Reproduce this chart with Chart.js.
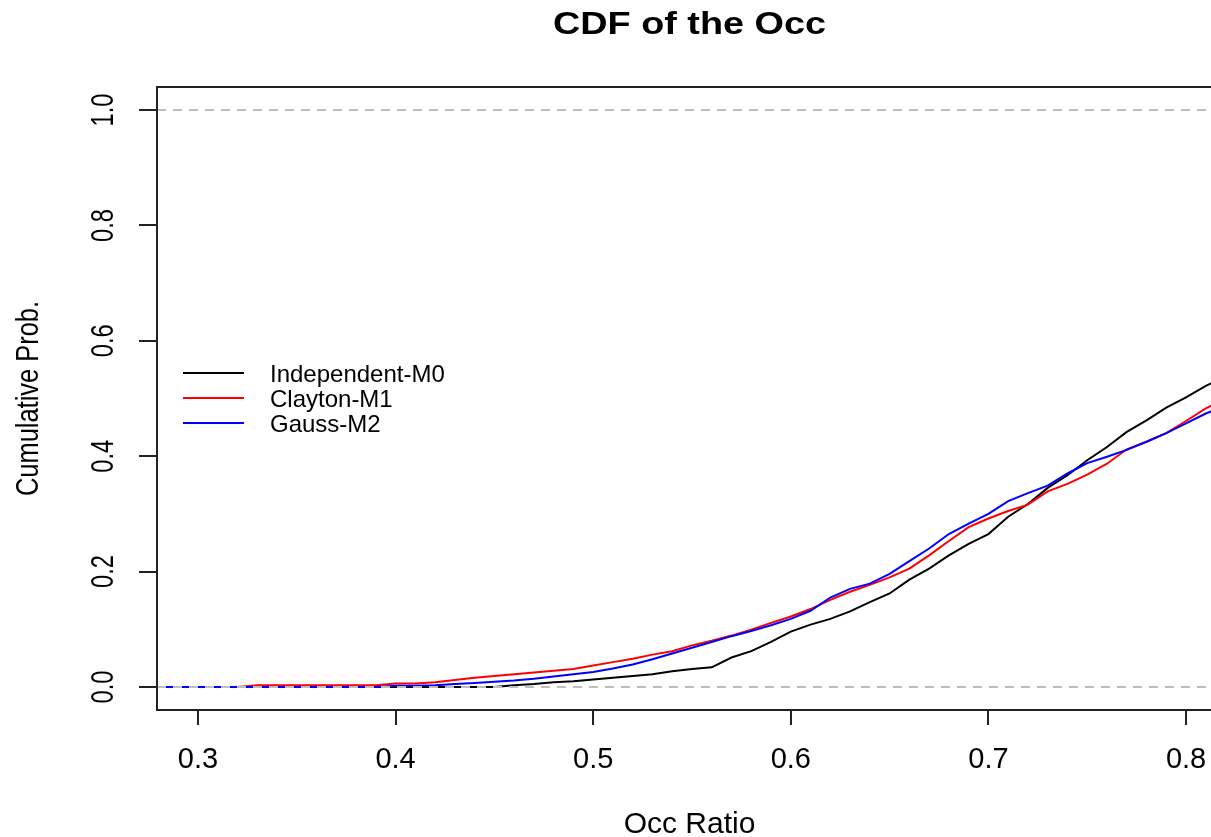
<!DOCTYPE html>
<html>
<head>
<meta charset="utf-8">
<title>CDF of the Occ</title>
<script src="https://cdn.jsdelivr.net/npm/chart.js@4.4.1/dist/chart.umd.min.js"></script>
<style>
  html, body { margin: 0; padding: 0; background: #fff; overflow: hidden; }
  #grafico { display: block; }
</style>
</head>
<body>
<canvas id="grafico" width="1240" height="837"></canvas>
<script>
// common x grid (Occ ratio) and the three ECDF curves
const occRatio = [0.28, 0.29, 0.30, 0.31, 0.32, 0.33, 0.34, 0.35, 0.36, 0.37, 0.38, 0.39,
  0.40, 0.41, 0.42, 0.43, 0.44, 0.45, 0.46, 0.47, 0.48, 0.49, 0.50, 0.51, 0.52, 0.53,
  0.54, 0.55, 0.56, 0.57, 0.58, 0.59, 0.60, 0.61, 0.62, 0.63, 0.64, 0.65, 0.66, 0.67,
  0.68, 0.69, 0.70, 0.71, 0.72, 0.73, 0.74, 0.75, 0.76, 0.77, 0.78, 0.79, 0.80, 0.81, 0.82];

const independentM0 = [0, 0, 0, 0, 0, 0, 0, 0, 0, 0, 0, 0,
  0, 0, 0, 0, 0, 0, 0.003, 0.005, 0.008, 0.010, 0.013, 0.016, 0.019, 0.022,
  0.027, 0.031, 0.034, 0.051, 0.062, 0.078, 0.096, 0.108, 0.118, 0.131, 0.147, 0.162, 0.186, 0.205,
  0.228, 0.248, 0.265, 0.295, 0.317, 0.345, 0.367, 0.393, 0.416, 0.442, 0.462, 0.484, 0.502, 0.522, 0.538];

const claytonM1 = [0, 0, 0, 0, 0, 0.003, 0.003, 0.003, 0.003, 0.003, 0.003, 0.003,
  0.006, 0.006, 0.008, 0.012, 0.016, 0.019, 0.022, 0.025, 0.028, 0.031, 0.037, 0.043, 0.049, 0.056,
  0.062, 0.072, 0.080, 0.089, 0.099, 0.111, 0.122, 0.135, 0.151, 0.165, 0.177, 0.190, 0.205, 0.228,
  0.253, 0.277, 0.292, 0.305, 0.316, 0.339, 0.352, 0.368, 0.387, 0.412, 0.425, 0.440, 0.461, 0.483, 0.500];

const gaussM2 = [0, 0, 0, 0, 0, 0, 0, 0, 0, 0, 0, 0,
  0.002, 0.002, 0.003, 0.005, 0.007, 0.009, 0.011, 0.014, 0.018, 0.022, 0.026, 0.032, 0.039, 0.048,
  0.058, 0.068, 0.078, 0.088, 0.097, 0.107, 0.118, 0.132, 0.155, 0.170, 0.179, 0.196, 0.218, 0.240,
  0.265, 0.283, 0.300, 0.322, 0.336, 0.349, 0.370, 0.388, 0.399, 0.411, 0.425, 0.440, 0.457, 0.474, 0.487];

const seriesNames = ['Independent-M0', 'Clayton-M1', 'Gauss-M2'];
const seriesColors = ['#000000', '#FF0000', '#0000FF'];
const xTicks = [0.3, 0.4, 0.5, 0.6, 0.7, 0.8];
const yTicks = [0, 0.2, 0.4, 0.6, 0.8, 1.0];
const refLines = [0, 1];
const xRange = [0.2793, 0.8182];
const yRange = [-0.04, 1.04];

const FONTE = "'Liberation Sans', Arial, sans-serif";
const TITULO = 'CDF of the Occ';

function pontos(serie) {
  return occRatio.map((x, i) => ({ x: x, y: serie[i] }));
}

const datasets = [independentM0, claytonM1, gaussM2].map((s, i) => ({
  label: seriesNames[i],
  data: pontos(s),
  borderColor: seriesColors[i],
  borderWidth: 2,
  pointRadius: 0,
  tension: 0,
  fill: false,
  order: 3 - i
}));

// dashed grey lines at 0 and 1, drawn over the curves
refLines.forEach(v => {
  datasets.push({
    label: 'ref',
    data: [{ x: xRange[0], y: v }, { x: xRange[1], y: v }],
    borderColor: '#BEBEBE',
    borderDash: [9, 7],
    borderWidth: 2,
    pointRadius: 0,
    fill: false,
    order: 0
  });
});

// box around the plot
const moldura = {
  id: 'moldura',
  afterDatasetsDraw(chart) {
    const { ctx, chartArea: a } = chart;
    ctx.save();
    ctx.strokeStyle = '#222';
    ctx.lineWidth = 2;
    ctx.strokeRect(a.left, a.top, a.right - a.left, a.bottom - a.top);
    ctx.restore();
  }
};

// title centred on the plot region, wide bold like the R device
const titulo = {
  id: 'titulo',
  afterDraw(chart) {
    const ctx = chart.ctx, a = chart.chartArea;
    ctx.save();
    ctx.fillStyle = '#000';
    ctx.textAlign = 'center';
    ctx.textBaseline = 'middle';
    ctx.font = 'bold 31px ' + FONTE;
    ctx.translate((a.left + a.right) / 2, 25);
    ctx.scale(1.22, 1);
    ctx.fillText(TITULO, 0, 0);
    ctx.restore();
  }
};

// rotated y labels + y title (R style)
const eixoY = {
  id: 'eixoY',
  afterDraw(chart) {
    const ctx = chart.ctx, s = chart.scales.y, a = chart.chartArea;
    ctx.save();
    ctx.fillStyle = '#000';
    ctx.textAlign = 'center';
    ctx.textBaseline = 'middle';
    ctx.font = '32px ' + FONTE;
    s.ticks.forEach(t => {
      ctx.save();
      ctx.translate(a.left - 53, s.getPixelForValue(t.value));
      ctx.rotate(-Math.PI / 2);
      ctx.scale(0.74, 1);
      ctx.fillText(t.value.toFixed(1), 0, 0);
      ctx.restore();
    });
    ctx.font = '31px ' + FONTE;
    ctx.translate(a.left - 128, (a.top + a.bottom) / 2);
    ctx.rotate(-Math.PI / 2);
    ctx.scale(0.82, 1);
    ctx.fillText('Cumulative Prob.', 0, 0);
    ctx.restore();
  }
};

const legenda = {
  id: 'legenda',
  afterDraw(chart) {
    const ctx = chart.ctx, a = chart.chartArea;
    ctx.save();
    ctx.font = '24px ' + FONTE;
    ctx.textAlign = 'left';
    ctx.textBaseline = 'middle';
    ctx.lineWidth = 2;
    seriesNames.forEach((nome, i) => {
      const y = a.top + 286 + i * 25;
      ctx.strokeStyle = seriesColors[i];
      ctx.beginPath();
      ctx.moveTo(a.left + 26, y);
      ctx.lineTo(a.left + 87, y);
      ctx.stroke();
      ctx.fillStyle = '#000';
      ctx.fillText(nome, a.left + 113, y + 2);
    });
    ctx.restore();
  }
};

const config = {
  type: 'line',
  data: { datasets: datasets },
  options: {
    responsive: false,
    animation: false,
    layout: { padding: { top: 87, right: 18 } },
    plugins: {
      legend: { display: false },
      tooltip: { enabled: false },
      title: { display: false }
    },
    scales: {
      x: {
        type: 'linear',
        min: xRange[0],
        max: xRange[1],
        afterBuildTicks: s => { s.ticks = xTicks.map(v => ({ value: v })); },
        afterFit: s => { s.height = 127; },
        grid: { drawOnChartArea: false, drawTicks: true, tickLength: 15, color: '#222', lineWidth: 2 },
        border: { display: false },
        ticks: {
          color: '#000',
          padding: 18,
          autoSkip: false,
          maxRotation: 0,
          font: { family: FONTE, size: 29 },
          callback: v => v.toFixed(1)
        },
        title: {
          display: true,
          text: 'Occ Ratio',
          color: '#000',
          font: { family: FONTE, size: 30, lineHeight: 0.8 },
          padding: 0
        }
      },
      y: {
        type: 'linear',
        min: yRange[0],
        max: yRange[1],
        afterBuildTicks: s => { s.ticks = yTicks.map(v => ({ value: v })); },
        afterFit: s => { s.width = 157; },
        grid: { drawOnChartArea: false, drawTicks: true, tickLength: 18, color: '#222', lineWidth: 2 },
        border: { display: false },
        ticks: { display: false }
      }
    }
  },
  plugins: [moldura, titulo, eixoY, legenda]
};

const ctx = document.getElementById('grafico').getContext('2d');
const chart = new Chart(ctx, config);
</script>
</body>
</html>
